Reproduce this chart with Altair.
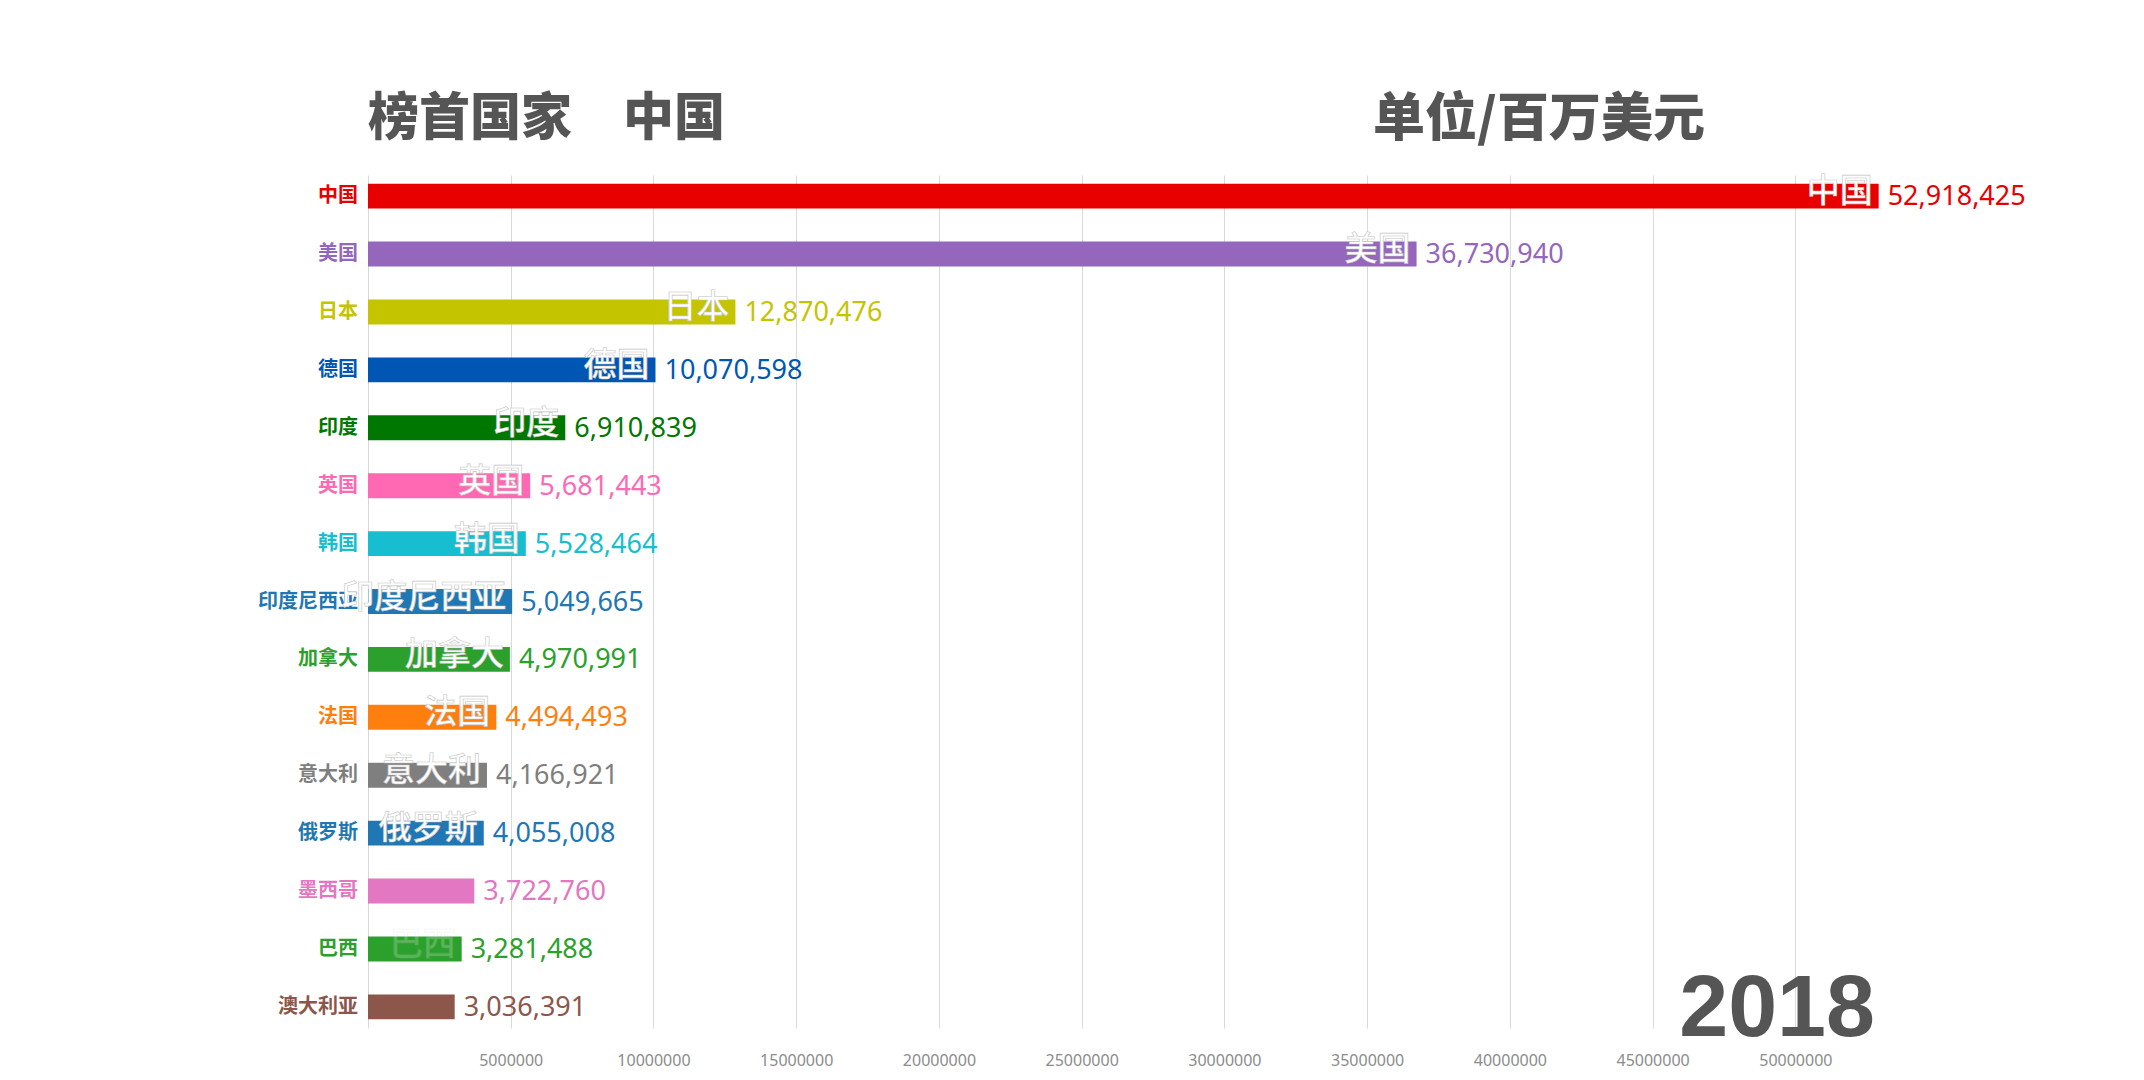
import json
import altair as alt
import pandas as pd

countries = ["中国", "美国", "日本", "德国", "印度", "英国", "韩国", "印度尼西亚",
             "加拿大", "法国", "意大利", "俄罗斯", "墨西哥", "巴西", "澳大利亚"]
values = [52918425, 36730940, 12870476, 10070598, 6910839, 5681443, 5528464,
          5049665, 4970991, 4494493, 4166921, 4055008, 3722760, 3281488, 3036391]
colors = ["#e80000", "#9467bd", "#c4c400", "#0057b3", "#007800", "#ff69b4",
          "#17becf", "#1f77b4", "#2ca02c", "#ff7f0e", "#7f7f7f", "#1f77b4",
          "#e377c2", "#2ca02c", "#8c564b"]
year = "2018"
unit_label = "单位/百万美元"
tick_values = [0, 5000000, 10000000, 15000000, 20000000, 25000000,
               30000000, 35000000, 40000000, 45000000, 50000000]
faded_inner = ["巴西"]
hidden_inner = ["墨西哥", "澳大利亚"]

leader = countries[values.index(max(values))]

df = pd.DataFrame({"country": countries, "value": values})

W, H = 1513, 853
CJK = "Noto Sans CJK SC"

x_scale = alt.Scale(domain=[0, 53000000], nice=False)
x_axis = alt.Axis(values=tick_values, format="d",
                  labelExpr="datum.value == 0 ? '' : datum.label",
                  title=None, grid=True, gridColor="#d9d9d9", gridWidth=1,
                  domain=False, ticks=False, tickSize=0, labelPadding=24,
                  labelFontSize=16, labelColor="#8c8c8c", labelFont="Noto Sans")
x_enc = alt.X("value:Q", scale=x_scale, axis=x_axis)
y_enc = alt.Y("country:N", sort=countries, axis=None,
              scale=alt.Scale(paddingInner=0.57, paddingOuter=0.15))
color_enc = alt.Color("country:N", scale=alt.Scale(domain=countries, range=colors),
                      legend=None)

base = alt.Chart(df)

bars = base.mark_bar().encode(x=x_enc, y=y_enc, color=color_enc)

ylabels = base.mark_text(align="right", baseline="middle", dx=-10, fontSize=20,
                         fontWeight="bold", font=CJK).encode(
    x=alt.value(0), y=y_enc, text="country:N", color=color_enc)

vlabels = base.mark_text(align="left", baseline="middle", dx=9, dy=1, fontSize=27,
                         font="Noto Sans").encode(
    x=x_enc, y=y_enc, text=alt.Text("value:Q", format=",d"), color=color_enc)

inner = base.transform_filter(
    f"indexof({json.dumps(hidden_inner, ensure_ascii=False)}, datum.country) < 0"
).mark_text(align="right", baseline="middle", dx=-6, dy=-4, fontSize=33, font=CJK,
            fontWeight=500, color="white", stroke="#c4c4c4", strokeWidth=0.6).encode(
    x=x_enc, y=y_enc, text="country:N",
    opacity=alt.condition(
        f"indexof({json.dumps(faded_inner, ensure_ascii=False)}, datum.country) >= 0",
        alt.value(0.22), alt.value(1.0)))

title_l = alt.Chart(pd.DataFrame({"t": [f"榜首国家　{leader}"]})).mark_text(
    align="left", baseline="middle", fontSize=51, fontWeight=900, font=CJK,
    color="#555555").encode(x=alt.value(0), y=alt.value(-55), text="t:N")

title_r = alt.Chart(pd.DataFrame({"t": [unit_label]})).mark_text(
    align="left", baseline="middle", fontSize=52, fontWeight=900, font=CJK,
    color="#555555").encode(x=alt.value(1005), y=alt.value(-55), text="t:N")

year_t = alt.Chart(pd.DataFrame({"t": [year]})).mark_text(
    align="right", baseline="alphabetic", fontSize=88, fontWeight="bold",
    font="Liberation Sans", color="#555555").encode(
    x=alt.value(1507), y=alt.value(861), text="t:N")

chart = alt.layer(bars, ylabels, vlabels, inner, title_l, title_r, year_t).properties(
    width=W, height=H,
    autosize=alt.AutoSizeParams(type="none"),
    padding={"left": 368, "top": 175, "right": 258, "bottom": 50},
    background="white",
).configure_view(stroke=None)

chart.save("out.html", embed_options={"renderer": "svg", "actions": False})
